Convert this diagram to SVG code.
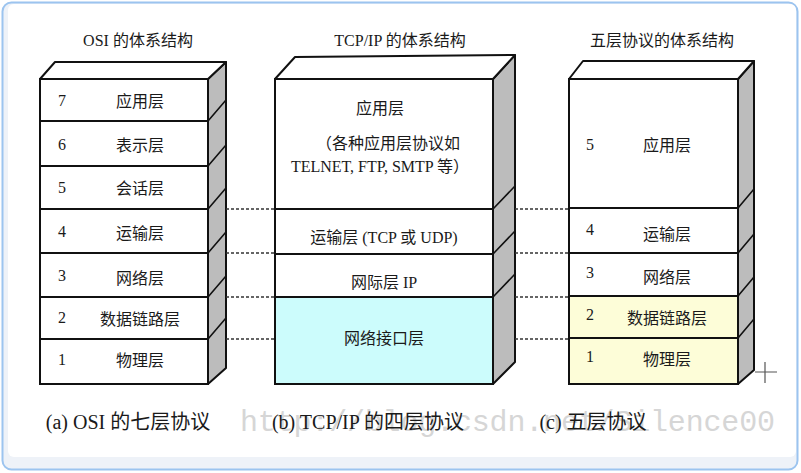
<svg xmlns="http://www.w3.org/2000/svg" width="801" height="473" viewBox="0 0 801 473">
<style>
.t{font-family:"Liberation Serif","Noto Sans CJK SC",serif;fill:#1a1a1a}
.lt{font-size:16px;text-anchor:middle}
.num{font-size:16px;text-anchor:middle}
.ttl{font-size:16px;text-anchor:middle}
.cap{font-size:20px;text-anchor:middle}
.fr{fill:#fff;stroke:#111;stroke-width:2}
.side{fill:#bcbcbc;stroke:#111;stroke-width:2;stroke-linejoin:round}
.top{fill:#fff;stroke:#111;stroke-width:2;stroke-linejoin:round}
.ln{stroke:#111;stroke-width:2;fill:none}
.dg{stroke:#111;stroke-width:1.6;fill:none}
.dot{stroke:#333;stroke-width:1.3;stroke-dasharray:3 2;fill:none}
</style>
<rect x="0" y="0" width="801" height="473" fill="#ffffff"/>
<rect x="2.5" y="2.5" width="795" height="467" rx="9" fill="#eef2f8" stroke="#9cc4ef" stroke-width="2"/>
<rect x="8" y="4" width="788" height="453" rx="6" fill="#ffffff"/>

<text x="240" y="431" font-family="Liberation Mono,monospace" font-size="30" fill="#d6d6d6" textLength="535">http://blog.csdn.net/Silence00</text>

<g id="osi">
<text class="t ttl" x="138" y="46">OSI 的体系结构</text>
<polygon class="side" points="208,79 226,62 226,368 208,384"/>
<polygon class="top" points="40,79 55,62 226,62 208,79"/>
<rect class="fr" x="40" y="79" width="168" height="305"/>
<path class="ln" d="M40 121H208M40 166H208M40 209H208M40 253H208M40 297H208M40 339H208"/>
<path class="dg" d="M208 121L226 100M208 166L226 145M208 209L226 188M208 253L226 232M208 297L226 276M208 339L226 318"/>
<g class="t">
<text class="num" x="62" y="106">7</text><text class="lt" x="140" y="107">应用层</text>
<text class="num" x="62" y="150">6</text><text class="lt" x="140" y="151">表示层</text>
<text class="num" x="62" y="193">5</text><text class="lt" x="140" y="194">会话层</text>
<text class="num" x="62" y="237">4</text><text class="lt" x="140" y="239">运输层</text>
<text class="num" x="62" y="281">3</text><text class="lt" x="140" y="284">网络层</text>
<text class="num" x="62" y="323">2</text><text class="lt" x="140" y="325">数据链路层</text>
<text class="num" x="62" y="365">1</text><text class="lt" x="140" y="366">物理层</text>
</g>
<text class="t cap" x="128" y="429">(a) OSI 的七层协议</text>
</g>

<g id="tcpip">
<text class="t ttl" x="400" y="46">TCP/IP 的体系结构</text>
<polygon class="side" points="493,79 515,55 515,362 493,384"/>
<polygon class="top" points="275,79 295,57 515,55 493,79"/>
<rect class="fr" x="275" y="79" width="218" height="305"/>
<rect x="276" y="298" width="216" height="85" fill="#ccfcfc"/>
<path class="ln" d="M275 209H493M275 254H493M275 297H493"/>
<path class="dg" d="M493 209L515 186M493 254L515 231M493 297L515 274"/>
<g class="t">
<text class="lt" x="380" y="114">应用层</text>
<text class="lt" x="388" y="149">（各种应用层协议如</text>
<text class="lt" x="380" y="172">TELNET, FTP, SMTP 等）</text>
<text class="lt" x="384" y="243">运输层 (TCP 或 UDP)</text>
<text class="lt" x="384" y="288">网际层 IP</text>
<text class="lt" x="384" y="344">网络接口层</text>
</g>
<text class="t cap" x="368" y="429">(b) TCP/IP 的四层协议</text>
</g>

<g id="five">
<text class="t ttl" x="662" y="46">五层协议的体系结构</text>
<polygon class="side" points="738,79 754,61 754,370 738,384"/>
<polygon class="top" points="569,79 583,61 754,61 738,79"/>
<rect class="fr" x="569" y="79" width="169" height="305"/>
<rect x="570" y="297" width="167" height="86" fill="#fdfdd8"/>
<path class="ln" d="M569 208H738M569 253H738M569 296H738M569 338H738"/>
<path class="dg" d="M738 208L754 189M738 253L754 234M738 296L754 277M738 338L754 319"/>
<g class="t">
<text class="num" x="590" y="150">5</text><text class="lt" x="667" y="151">应用层</text>
<text class="num" x="590" y="235">4</text><text class="lt" x="667" y="240">运输层</text>
<text class="num" x="590" y="278">3</text><text class="lt" x="667" y="283">网络层</text>
<text class="num" x="590" y="320">2</text><text class="lt" x="667" y="324">数据链路层</text>
<text class="num" x="590" y="362">1</text><text class="lt" x="667" y="365">物理层</text>
</g>
<text class="t cap" x="593" y="429">(c)  五层协议</text>
</g>

<g id="connectors">
<path class="dot" d="M226 209H275M515 209H569M226 253H275M515 253H569M226 297H275M515 297H569M226 339H275M515 339H569"/>
</g>
<path d="M755 372H777M765 362V383" stroke="#555" stroke-width="1.2" fill="none"/>
</svg>
